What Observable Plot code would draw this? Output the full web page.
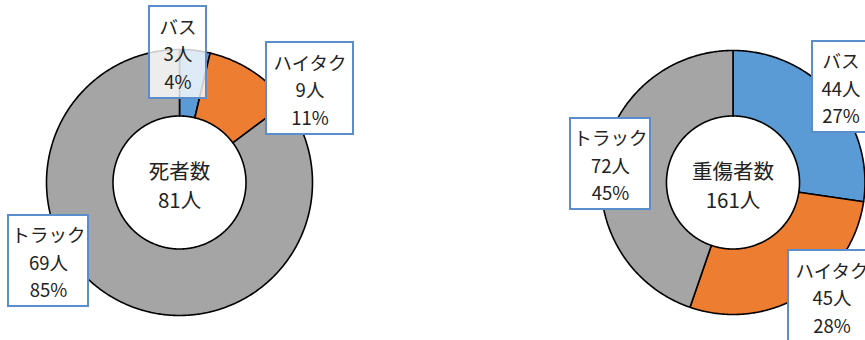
<!DOCTYPE html>
<html>
<head>
<meta charset="utf-8">
<script src="https://cdn.jsdelivr.net/npm/d3@7"></script>
<script src="https://cdn.jsdelivr.net/npm/@observablehq/plot@0.6"></script>
<style>
  html, body { margin: 0; padding: 0; background: #fff; overflow: hidden; }
  #wrap { position: relative; width: 865px; height: 340px; overflow: hidden; }
  .panel { position: absolute; top: 0; }
</style>
</head>
<body>
<div id="wrap"></div>
<script>
// ---- data ----
const categories = ["バス", "ハイタク", "トラック"];
const deathValues = [3, 9, 69];
const injuryValues = [44, 45, 72];
const chartTitles = ["死者数", "重傷者数"];
const unit = "人";
const sliceColors = ["#5B9BD5", "#ED7D31", "#A5A5A5"];

// ---- layout (pixels) ----
const H = 340;
const panels = [
  { left: 0, width: 432, cx: 179, cy: 182, R: 133, inner: 0.5,
    labels: [
      { dx: -1.5, dy: -130, w: 57, h: 92, op: 0.8 },
      { dx: 130.5, dy: -94, w: 87, h: 92, op: 1 },
      { dx: -131, dy: 78.5, w: 80, h: 91, op: 1 }
    ] },
  { left: 432, width: 433, cx: 300.5, cy: 182, R: 132, inner: 0.504,
    labels: [
      { dx: 108, dy: -95.5, w: 57, h: 91, op: 1 },
      { dx: 99, dy: 114, w: 87, h: 92, op: 1 },
      { dx: -122.5, dy: -18.5, w: 80, h: 91, op: 1 }
    ] }
];
const seriesList = [deathValues, injuryValues];
const FONT = "'Noto Sans CJK JP', 'Noto Sans', sans-serif";

function donut(values, title, P) {
  const total = d3.sum(values);
  const rows = categories.map((c, i) => ({ category: c, value: values[i] }));
  const arcs = d3.pie().sort(null).value(d => d.value)(rows);
  const ri = P.inner;
  // polygon outline of each ring slice (angle clockwise from 12 o'clock)
  const pts = [];
  for (const a of arcs) {
    const n = Math.max(2, Math.ceil((a.endAngle - a.startAngle) / 0.01));
    for (let k = 0; k <= n; k++) {
      const t = a.startAngle + (a.endAngle - a.startAngle) * k / n;
      pts.push({ category: a.data.category, x: Math.sin(t), y: Math.cos(t) });
    }
    for (let k = n; k >= 0; k--) {
      const t = a.startAngle + (a.endAngle - a.startAngle) * k / n;
      pts.push({ category: a.data.category, x: ri * Math.sin(t), y: ri * Math.cos(t) });
    }
  }
  const R = P.R;
  const labels = rows.map((d, i) => {
    const L = P.labels[i];
    return {
      text: `${d.category}\n${d.value}${unit}\n${Math.round(d.value / total * 100)}%`,
      x: L.dx / R, y: -L.dy / R,
      x1: (L.dx - L.w / 2) / R, x2: (L.dx + L.w / 2) / R,
      y1: -(L.dy - L.h / 2) / R, y2: -(L.dy + L.h / 2) / R,
      op: L.op
    };
  });
  return Plot.plot({
    width: P.width,
    height: H,
    margin: 0,
    x: { domain: [-P.cx / R, (P.width - P.cx) / R], axis: null },
    y: { domain: [-(H - P.cy) / R, P.cy / R], axis: null },
    color: { domain: categories, range: sliceColors },
    style: { background: "transparent", overflow: "visible", fontFamily: FONT },
    marks: [
      Plot.line(pts, { x: "x", y: "y", z: "category", fill: "category",
        stroke: "#000", strokeWidth: 1.6, curve: "linear-closed" }),
      Plot.text([`${title}\n${total}${unit}`], { x: () => 0, y: () => 0,
        text: d => d, fontSize: 20.5, lineHeight: 1.37, fill: "#222", dy: 2 }),
      Plot.rect(labels, { x1: "x1", x2: "x2", y1: "y1", y2: "y2",
        fill: "#fff", fillOpacity: "op", stroke: "#5B8DCB", strokeWidth: 2 }),
      Plot.text(labels, { x: "x", y: "y", text: "text", fontSize: 18.5,
        lineHeight: 1.49, fill: "#222" })
    ]
  });
}

const wrap = document.getElementById("wrap");
panels.forEach((P, i) => {
  const div = document.createElement("div");
  div.className = "panel";
  div.style.left = P.left + "px";
  div.style.width = P.width + "px";
  div.appendChild(donut(seriesList[i], chartTitles[i], P));
  wrap.appendChild(div);
});
</script>
</body>
</html>
